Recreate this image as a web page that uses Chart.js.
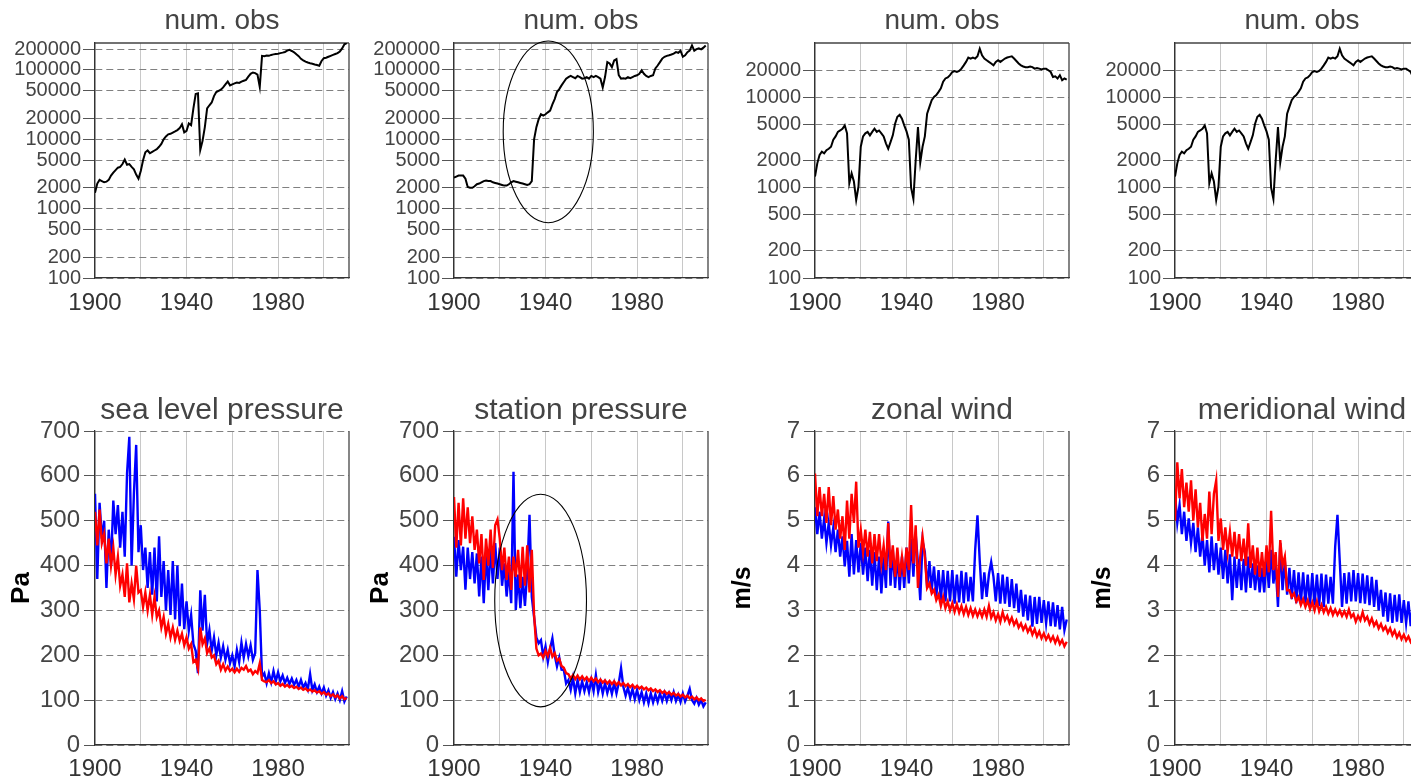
<!DOCTYPE html>
<html>
<head>
<meta charset="utf-8">
<title>num. obs / pressure / wind</title>
<script src="https://cdn.jsdelivr.net/npm/chart.js@4.4.1/dist/chart.umd.min.js"></script>
<style>
  html, body { margin:0; padding:0; background:#ffffff; width:1411px; height:782px; overflow:hidden; position:relative; }
  canvas { position:absolute; }
</style>
</head>
<body>
<canvas id="p1" width="360" height="330" style="left:0px;top:0px"></canvas>
<canvas id="p2" width="360" height="330" style="left:359px;top:0px"></canvas>
<canvas id="p3" width="360" height="330" style="left:720px;top:0px"></canvas>
<canvas id="p4" width="360" height="330" style="left:1080px;top:0px"></canvas>
<canvas id="p5" width="360" height="397" style="left:0px;top:385px"></canvas>
<canvas id="p6" width="360" height="397" style="left:359px;top:385px"></canvas>
<canvas id="p7" width="360" height="397" style="left:720px;top:385px"></canvas>
<canvas id="p8" width="360" height="397" style="left:1080px;top:385px"></canvas>
<script>
// ---------- categories (time axis) ----------
const years = [];
for (let y = 1900; y <= 2010; y++) years.push(y);
const xGridYears = [1900, 1920, 1940, 1960, 1980, 2000];
const xLabelYears = [1900, 1940, 1980];

// ---------- tick labels ----------
const obsTicksWide = [100, 200, 500, 1000, 2000, 5000, 10000, 20000, 50000, 100000, 200000];
const obsTicksNarrow = [100, 200, 500, 1000, 2000, 5000, 10000, 20000];
const paTicks = [0, 100, 200, 300, 400, 500, 600, 700];
const msTicks = [0, 1, 2, 3, 4, 5, 6, 7];

// ---------- series (one value per year, 1900..2010) ----------
const slpObs = [
  1700, 2300, 2600, 2500, 2400, 2450, 2600, 3000, 3300, 3600,
  3900, 4000, 4400, 5100, 4300, 4400, 4000, 3700, 3100, 2700,
  3500, 5000, 6500, 6900, 6300, 6600, 6900, 7200, 7800, 8600,
  10000, 11000, 11800, 12000, 12500, 13000, 13600, 14500, 16500, 12600,
  13200, 17000, 16000, 28000, 45000, 46000, 7000, 9500, 15000, 28000,
  31000, 34000, 42000, 48000, 50000, 52000, 56000, 62000, 68000, 60000,
  62000, 64000, 66000, 65000, 68000, 70000, 72000, 80000, 88000, 92000,
  90000, 86000, 57000, 160000, 158000, 162000, 160000, 165000, 168000, 170000,
  172000, 175000, 178000, 182000, 190000, 195000, 188000, 180000, 168000, 158000,
  145000, 138000, 132000, 128000, 125000, 123000, 120000, 118000, 115000, 135000,
  148000, 150000, 155000, 160000, 165000, 170000, 175000, 185000, 205000, 235000,
  245000
];
const stnObs = [
  2800, 2900, 3000, 3000, 3000, 2700, 2050, 2000, 2000, 2100,
  2250, 2300, 2400, 2500, 2550, 2500, 2500, 2400, 2350, 2300,
  2250, 2200, 2150, 2150, 2250, 2400, 2500, 2450, 2400, 2350,
  2300, 2250, 2200, 2250, 2500, 10000, 15000, 19500, 23000, 22000,
  23000, 24500, 26000, 32000, 38000, 48000, 53000, 60000, 67000, 75000,
  79000, 82000, 79000, 76000, 82000, 79000, 75000, 76000, 79000, 75000,
  82000, 79000, 82000, 79000, 75000, 56000, 79000, 130000, 124000, 110000,
  137000, 143000, 84000, 75000, 76000, 75000, 79000, 76000, 79000, 82000,
  84000, 88000, 99000, 88000, 82000, 79000, 82000, 84000, 105000, 116000,
  130000, 146000, 155000, 160000, 163000, 167000, 172000, 181000, 177000, 190000,
  155000, 163000, 181000, 190000, 226000, 190000, 200000, 205000, 198000, 210000,
  226000
];
const windObs = [
  1330, 1860, 2300, 2500, 2400, 2600, 2700, 2840, 3400, 3700,
  4150, 4300, 4500, 4900, 4000, 1120, 1440, 1170, 730, 1030,
  2840, 3700, 4000, 4150, 3800, 4150, 4500, 4150, 4300, 4000,
  3700, 3100, 2700, 3200, 3800, 5100, 6100, 6400, 5800, 4900,
  4200, 3400, 1000, 750, 2000, 4700, 1900, 2840, 3700, 6600,
  7850, 9300, 10100, 10600, 11500, 12600, 14900, 16200, 16600, 17600,
  19100, 19600, 19100, 19600, 20800, 22600, 24700, 27600, 26900, 27600,
  26900, 28500, 34600, 29200, 26900, 25800, 24700, 23700, 22600, 24700,
  25800, 24700, 25800, 26900, 27600, 28100, 28500, 26900, 25300, 23700,
  22600, 22000, 21600, 21600, 22000, 21600, 20800, 21100, 20800, 20400,
  20800, 20800, 20000, 19100, 16800, 17100, 16200, 17600, 15500, 16200,
  15700
];

const slpRed = [
  520, 445, 525, 450, 470, 405, 460, 400, 440, 380,
  420, 355, 380, 330, 405, 318, 360, 325, 400, 340,
  345, 308, 340, 300, 335, 290, 330, 285, 300, 262,
  285, 248, 270, 240, 262, 235, 255, 232, 248, 222,
  240, 215, 225, 185, 190, 170, 262, 225, 238, 205,
  215, 195, 200, 180, 188, 168, 180, 166, 175, 165,
  170, 162, 170, 163, 172, 168, 176, 164, 168, 158,
  165, 160, 182, 145, 142, 140, 145, 138, 142, 135,
  138, 132, 136, 130, 134, 129, 132, 127, 130, 125,
  128, 123, 126, 121, 124, 119, 122, 117, 120, 114,
  118, 112, 115, 109, 113, 107, 111, 104, 109, 102,
  105
];
const slpBlue = [
  560, 370, 540, 460, 500, 350, 480, 400, 545, 470,
  535, 440, 520, 420, 605, 687, 400, 560, 669, 430,
  490, 390, 440, 350, 430, 335, 440, 320, 465, 330,
  410, 300, 390, 290, 410, 280, 400, 265, 360, 258,
  320, 255, 290, 225, 210, 160, 345, 255, 335, 225,
  256, 210, 240, 200, 228, 195, 220, 190, 212, 182,
  200, 175, 212, 185, 228, 195, 225, 198, 222, 190,
  205, 390, 300, 152, 160, 138, 160, 140, 165, 142,
  162, 142, 155, 138, 150, 136, 148, 134, 145, 130,
  145, 128, 138, 124, 158, 122, 135, 118, 130, 115,
  128, 110, 122, 105, 118, 102, 115, 100, 120, 97,
  108
];
const stnRed = [
  553, 440, 540, 445, 550, 460, 530, 450, 510, 435,
  480, 405, 470, 368, 460, 400, 480, 395, 490, 503,
  460, 390, 440, 368, 420, 346, 420, 375, 435, 350,
  442, 355, 445, 340, 435, 290, 215, 200, 204, 195,
  210, 198, 216, 197, 205, 188, 192, 176, 172, 160,
  158, 148, 156, 147, 155, 146, 153, 145, 151, 143,
  150, 142, 148, 140, 146, 139, 144, 137, 143, 136,
  142, 134, 140, 133, 138, 131, 136, 129, 134, 127,
  132, 126, 130, 124, 128, 122, 126, 120, 124, 118,
  122, 116, 120, 114, 118, 112, 116, 110, 114, 108,
  112, 106, 110, 104, 108, 102, 106, 100, 104, 98,
  101
];
const stnBlue = [
  464, 375, 457, 390, 442, 346, 440, 370, 430, 360,
  427, 331, 420, 316, 430, 345, 442, 360, 450, 370,
  440, 355, 405, 331, 390, 316, 609, 301, 380, 305,
  375, 310, 385, 513, 330, 285, 240, 227, 234, 197,
  220, 185, 215, 238, 200, 175, 195, 168, 167, 137,
  145, 123, 150, 115, 145, 118, 142, 120, 140, 118,
  145, 120, 156, 118, 140, 115, 138, 116, 135, 114,
  138, 115, 138, 171, 130, 110, 128, 105, 125, 102,
  123, 100, 118, 95, 115, 93, 115, 95, 113, 96,
  115, 98, 116, 98, 115, 100, 118, 98, 112, 96,
  115, 97, 110, 125, 100, 92, 105, 90, 100, 86,
  95
];
const zonRed = [
  6.05, 5.1, 5.75, 5.1, 5.6, 4.95, 5.75, 4.9, 5.55, 4.8,
  5.25, 4.6, 5.1, 4.35, 5.45, 4.6, 5.6, 4.95, 5.87, 4.4,
  4.8, 4.3, 4.8, 4.2, 4.75, 4.05, 4.7, 4.1, 4.7, 4.05,
  4.45, 3.9, 4.95, 3.95, 4.45, 3.75, 4.4, 3.75, 4.2, 3.75,
  4.4, 3.9, 5.35, 4.05, 4.9, 3.5, 4.2, 4.65, 4.2, 3.5,
  3.6, 3.38, 3.46, 3.23, 3.35, 3.1, 3.3, 3.05, 3.2, 3.0,
  3.16, 2.97, 3.14, 2.95, 3.1, 2.92, 3.08, 2.9, 3.05, 2.88,
  3.02, 2.87, 3.0, 2.86, 3.02, 2.86, 3.1, 2.84, 2.96, 2.78,
  2.92, 2.75, 2.96, 2.78, 2.88, 2.72, 2.84, 2.68, 2.78, 2.62,
  2.71, 2.57, 2.67, 2.52, 2.62, 2.46, 2.58, 2.42, 2.53, 2.38,
  2.49, 2.35, 2.45, 2.32, 2.42, 2.28, 2.4, 2.25, 2.34, 2.2,
  2.3
];
const zonBlue = [
  5.3, 4.7, 5.2, 4.6, 5.05, 4.5, 4.95, 4.45, 4.85, 4.3,
  4.8, 4.2, 4.65, 3.98, 4.55, 3.75, 4.7, 3.8, 4.57, 3.85,
  4.5, 3.8, 4.4, 3.65, 4.35, 3.55, 4.3, 3.45, 4.2, 3.38,
  4.2, 3.5, 4.98, 3.55, 4.35, 3.5, 4.25, 3.45, 4.2, 3.5,
  4.4, 3.6, 4.6, 3.75, 4.7, 4.05, 3.23, 4.55, 4.3, 3.5,
  4.1, 3.45, 3.98, 3.31, 3.9, 3.23, 3.9, 3.2, 3.88, 3.2,
  3.9, 3.15, 3.8, 3.18, 3.88, 3.16, 3.85, 3.2, 3.75, 3.2,
  4.35, 5.12, 4.1, 3.25, 3.85, 3.3, 3.8, 4.08, 3.75, 3.2,
  3.83, 3.15, 3.8, 3.15, 3.75, 3.08, 3.7, 3.05, 3.6, 2.95,
  3.46, 2.86, 3.35, 2.78, 3.33, 2.64, 3.3, 2.7, 3.3, 2.72,
  3.23, 2.71, 3.2, 2.65, 3.18, 2.64, 3.12, 2.58, 3.08, 2.56,
  2.8
];
const merRed = [
  5.0, 6.3, 5.5, 6.15, 5.3, 5.85, 5.2, 5.9, 5.0, 5.7,
  4.85, 5.4, 4.55, 5.15, 4.6, 5.65, 4.7, 5.6, 5.9, 4.55,
  5.05, 4.35, 4.85, 4.3, 4.75, 4.2, 4.75, 4.15, 4.7, 4.1,
  4.6, 4.0, 4.94, 3.95, 4.45, 3.8, 4.4, 3.75, 4.3, 3.75,
  4.45, 3.85, 5.22, 3.9, 4.3, 3.3, 4.57, 4.0, 4.2, 3.45,
  3.45, 3.3, 3.38, 3.2, 3.3, 3.12, 3.25, 3.08, 3.22, 3.03,
  3.18, 3.0, 3.2, 2.98, 3.12, 2.96, 3.08, 2.93, 3.05, 2.9,
  3.02, 2.9, 3.0, 2.88, 2.98, 2.86, 3.02, 2.85, 2.92, 2.75,
  2.88, 2.78, 2.96, 2.78, 2.86, 2.7, 2.82, 2.66, 2.75, 2.6,
  2.7, 2.56, 2.64, 2.5, 2.6, 2.45, 2.55, 2.4, 2.5, 2.36,
  2.46, 2.33, 2.42, 2.3, 2.38, 2.26, 2.34, 2.22, 2.3, 2.18,
  2.26
];
const merBlue = [
  5.6, 4.95, 5.35, 4.7, 5.2, 4.55, 5.05, 4.5, 4.95, 4.3,
  4.85, 4.2, 4.7, 4.0, 4.57, 3.85, 4.65, 3.9, 4.5, 3.8,
  4.4, 3.7, 4.35, 3.6, 4.25, 3.23, 4.2, 3.5, 4.15, 3.45,
  4.15, 3.4, 4.2, 3.5, 4.05, 3.45, 4.0, 3.4, 3.95, 3.4,
  4.2, 3.5, 4.35, 3.6, 4.0, 3.08, 4.5, 3.45, 4.1, 3.35,
  3.95, 3.25, 3.9, 3.16, 3.85, 3.16, 3.85, 3.15, 3.8, 3.12,
  3.83, 3.12, 3.8, 3.1, 3.82, 3.08, 3.8, 3.15, 3.75, 3.15,
  4.42, 5.13, 4.1, 3.08, 3.83, 3.15, 3.85, 3.2, 3.9, 3.2,
  3.83, 3.16, 3.82, 3.15, 3.78, 3.12, 3.75, 3.08, 3.68, 3.0,
  3.46, 2.86, 3.4, 2.75, 3.38, 2.72, 3.35, 2.75, 3.36, 2.72,
  3.23, 2.71, 3.2, 2.65, 3.15, 2.62, 3.1, 2.58, 3.05, 2.55,
  2.95
];

// ---------- annotation rings (data coordinates) ----------
const stnObsRing = { x0: 1921.5, x1: 1960.9, yTop: 262000, yBottom: 627 };
const stnRing = { x0: 1917.8, x1: 1957.9, yTop: 559, yBottom: 85 };

// ---------- drawing ----------
const FONT = "'Liberation Sans', Arial, Helvetica, sans-serif";
Chart.defaults.font.family = FONT;

const framePlugin = {
  id: 'frame',
  beforeDatasetsDraw(chart, args, opts) {
    const { ctx, chartArea: a } = chart;
    ctx.save();
    ctx.strokeStyle = '#444';
    ctx.lineWidth = 1.3;
    ctx.beginPath();
    if (opts.top) { ctx.moveTo(a.left, a.top); ctx.lineTo(a.right, a.top); }
    ctx.moveTo(a.right, a.top); ctx.lineTo(a.right, a.bottom);
    ctx.stroke();
    ctx.restore();
  }
};
const ringPlugin = {
  id: 'ring',
  afterDatasetsDraw(chart, args, o) {
    if (!o || !o.show) return;
    const { ctx } = chart;
    const xs = chart.scales.x, ys = chart.scales.y;
    const l = xs.getPixelForValue(o.x0), r = xs.getPixelForValue(o.x1);
    const t = ys.getPixelForValue(o.yTop), b = ys.getPixelForValue(o.yBottom);
    ctx.save();
    ctx.strokeStyle = '#000';
    ctx.lineWidth = 1.1;
    ctx.beginPath();
    ctx.ellipse((l + r) / 2, (t + b) / 2, (r - l) / 2, (b - t) / 2, 0, 0, Math.PI * 2);
    ctx.stroke();
    ctx.restore();
  }
};

function buildPanel(cfg) {
  const isTop = cfg.row === 'top';
  const yScale = {
    type: cfg.log ? 'logarithmic' : 'linear',
    min: cfg.yMin, max: cfg.yMax,
    afterBuildTicks: s => { s.ticks = cfg.yTicks.map(v => ({ value: v })); },
    afterFit: s => { s.width = 95; },
    grid: { color: '#808080', lineWidth: 1, drawTicks: true, tickLength: isTop ? 12 : 11,
            tickColor: '#555', tickBorderDash: [] },
    border: { display: true, color: '#333', width: 1.3, dash: [7, 4] },
    ticks: { autoSkip: false, padding: isTop ? 2 : 4, color: '#444',
             font: { size: isTop ? 20 : 24 }, callback: v => String(v) }
  };
  if (cfg.yTitle) {
    yScale.title = { display: true, text: cfg.yTitle, color: '#000',
                     font: { size: cfg.yTitleSize, weight: 'bold', lineHeight: 1.2 },
                     padding: { top: cfg.yTitlePad, bottom: 0 } };
  }
  const xScale = {
    type: 'linear', min: 1900, max: 2011,
    afterBuildTicks: s => { s.ticks = xGridYears.map(v => ({ value: v })); },
    afterFit: s => { s.height = isTop ? 52 : 37; },
    grid: { color: '#c8c8c8', lineWidth: 1, drawTicks: false },
    border: { display: true, color: '#333', width: 1.3 },
    ticks: { autoSkip: false, maxRotation: 0, minRotation: 0, padding: isTop ? 10.6 : 9.6,
             color: '#333', font: { size: 24 },
             callback: v => xLabelYears.includes(v) ? String(v) : '' }
  };
  new Chart(document.getElementById(cfg.id), {
    type: 'line',
    data: {
      datasets: cfg.series.map(s => ({
        data: s.values.map((v, i) => ({ x: years[i], y: v })),
        borderColor: s.color, borderWidth: s.width,
        pointRadius: 0, tension: 0, fill: false
      }))
    },
    options: {
      responsive: false, animation: false, devicePixelRatio: 1, events: [],
      layout: { padding: { left: 0, right: 11, top: 0, bottom: 0 } },
      scales: { x: xScale, y: yScale },
      plugins: {
        legend: { display: false },
        tooltip: { enabled: false },
        title: { display: true, fullSize: false, text: cfg.title, color: '#444',
                 font: { size: isTop ? 28 : 30, weight: 'normal', lineHeight: 1.2 },
                 padding: isTop ? { top: 4.2, bottom: 5.2 } : { top: 8, bottom: 2 } },
        frame: { top: isTop },
        ring: cfg.ring ? Object.assign({ show: true }, cfg.ring) : { show: false }
      }
    },
    plugins: [framePlugin, ringPlugin]
  });
}

const RED = '#ff0000', BLUE = '#0000ff', BLACK = '#000000';
const panels = [
  { id: 'p1', row: 'top', title: 'num. obs', log: true, yMin: 100, yMax: 245000, yTicks: obsTicksWide,
    series: [{ values: slpObs, color: BLACK, width: 2 }] },
  { id: 'p2', row: 'top', title: 'num. obs', log: true, yMin: 100, yMax: 245000, yTicks: obsTicksWide,
    series: [{ values: stnObs, color: BLACK, width: 2 }], ring: stnObsRing },
  { id: 'p3', row: 'top', title: 'num. obs', log: true, yMin: 100, yMax: 40000, yTicks: obsTicksNarrow,
    series: [{ values: windObs, color: BLACK, width: 2 }] },
  { id: 'p4', row: 'top', title: 'num. obs', log: true, yMin: 100, yMax: 40000, yTicks: obsTicksNarrow,
    series: [{ values: windObs, color: BLACK, width: 2 }] },
  { id: 'p5', row: 'bottom', title: 'sea level pressure', log: false, yMin: 0, yMax: 700, yTicks: paTicks,
    yTitle: 'Pa', yTitleSize: 26, yTitlePad: 6,
    series: [{ values: slpRed, color: RED, width: 2.4 }, { values: slpBlue, color: BLUE, width: 2.4 }] },
  { id: 'p6', row: 'bottom', title: 'station pressure', log: false, yMin: 0, yMax: 700, yTicks: paTicks,
    yTitle: 'Pa', yTitleSize: 26, yTitlePad: 6,
    series: [{ values: stnRed, color: RED, width: 2.4 }, { values: stnBlue, color: BLUE, width: 2.4 }], ring: stnRing },
  { id: 'p7', row: 'bottom', title: 'zonal wind', log: false, yMin: 0, yMax: 7, yTicks: msTicks,
    yTitle: 'm/s', yTitleSize: 25, yTitlePad: 8,
    series: [{ values: zonRed, color: RED, width: 2.4 }, { values: zonBlue, color: BLUE, width: 2.4 }] },
  { id: 'p8', row: 'bottom', title: 'meridional wind', log: false, yMin: 0, yMax: 7, yTicks: msTicks,
    yTitle: 'm/s', yTitleSize: 25, yTitlePad: 8,
    series: [{ values: merRed, color: RED, width: 2.4 }, { values: merBlue, color: BLUE, width: 2.4 }] }
];
panels.forEach(buildPanel);
</script>
</body>
</html>
